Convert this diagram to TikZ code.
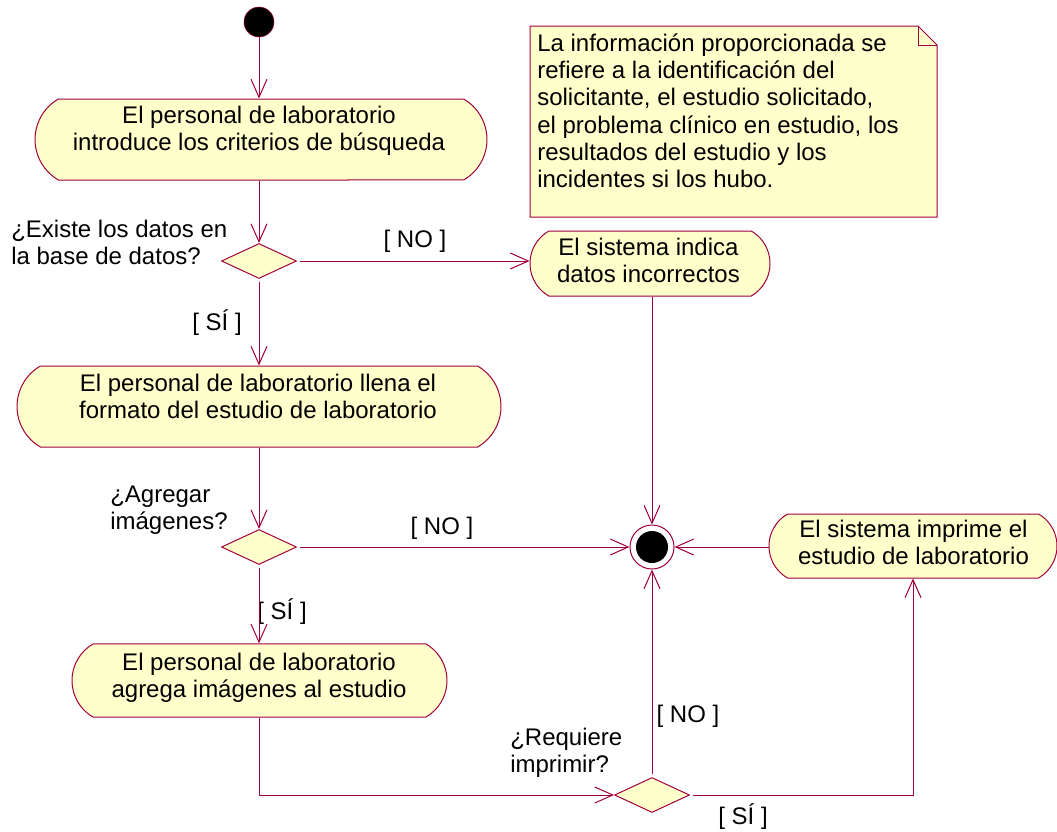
\documentclass[tikz,border=0pt]{standalone}
\usepackage{fontspec}
\setmainfont{Liberation Sans}
\usetikzlibrary{arrows.meta,shapes.misc,shapes.geometric}
\definecolor{rose}{RGB}{160,0,60}
\definecolor{notefill}{RGB}{255,255,204}
\begin{document}
\begin{tikzpicture}[x=0.75pt,y=-0.75pt,
  every node/.style={font=\fontsize{18}{20.5}\selectfont},
  act/.style={shape=rounded rectangle, rounded rectangle arc length=120, draw=rose, fill=notefill, line width=0.75pt, inner sep=0pt},
  dec/.style={shape=diamond, draw=rose, fill=notefill, line width=0.75pt, inner sep=0pt, minimum width=56.25pt, minimum height=26.25pt},
  txt/.style={align=center, inner sep=0pt, anchor=north},
  lbl/.style={align=left, inner sep=0pt, anchor=north west},
  guard/.style={inner sep=0pt},
  flow/.style={draw=rose, line width=0.75pt, -{Straight Barb[length=13.5pt,width=12pt]}},
  plain/.style={draw=rose, line width=0.75pt},
]
\useasboundingbox (0,0) rectangle (1057,832);

% note
\draw[plain, fill=notefill] (530,26) -- (918,26) -- (937,45) -- (937,217) -- (530,217) -- cycle;
\draw[plain] (918,26) -- (918,45) -- (937,45);
\node[lbl] (notetext) at (537,33.3) {La información proporcionada se\\refiere a la identificación del\\solicitante, el estudio solicitado,\\el problema clínico en estudio, los\\resultados del estudio y los\\incidentes si los hubo.};

% initial and final
\node[circle, fill=black, draw=rose, minimum size=22.5pt, inner sep=0pt] (start) at (259,22) {};
\node[circle, draw=rose, fill=white, line width=0.75pt, minimum size=33pt, inner sep=0pt] (fin) at (652,547) {};
\fill[black] (fin.center) circle (12pt);

% activities
\node[act, minimum width=339pt, minimum height=60.75pt] (b1) at (261,139.5) {};
\node[act, minimum width=180pt, minimum height=48.75pt] (b2) at (650,263.5) {};
\node[act, minimum width=363pt, minimum height=60.75pt] (b3) at (259,406.5) {};
\node[act, minimum width=216pt, minimum height=48pt] (b4) at (913,546) {};
\node[act, minimum width=281.25pt, minimum height=55pt] (b5) at (259.5,680.5) {};

\node[txt] (t1) at (259,105.6) {El personal de laboratorio\\introduce los criterios de búsqueda};
\node[txt] (t2) at (648.5,237.6) {El sistema indica\\datos incorrectos};
\node[txt] (t3) at (258,373.6) {El personal de laboratorio llena el\\formato del estudio de laboratorio};
\node[txt] (t4) at (913.5,519.6) {El sistema imprime el\\estudio de laboratorio};
\node[txt] (t5) at (259,652.6) {El personal de laboratorio\\agrega imágenes al estudio};

% decisions
\node[dec] (d1) at (259,261) {};
\node[dec] (d2) at (259,547) {};
\node[dec] (d3) at (652,795) {};

\node[lbl] (q1) at (11,219.6) {¿Existe los datos en\\la base de datos?};
\node[lbl] (q2) at (110,485.6) {¿Agregar\\imágenes?};
\node[lbl] (q3) at (510,727.6) {¿Requiere\\imprimir?};

% guards
\node[guard] (g1) at (415,241) {[ NO ]};
\node[guard] (g2) at (217,323) {[ SÍ ]};
\node[guard] (g3) at (442,528) {[ NO ]};
\node[guard] (g4) at (282,612) {[ SÍ ]};
\node[guard] (g5) at (688,716) {[ NO ]};
\node[guard] (g6) at (743,817) {[ SÍ ]};

% flows
\draw[flow] (start) -- (start |- b1.north);
\draw[flow] (d1 |- b1.south) -- (d1.north);
\draw[flow, shorten <=2.5pt] (d1.east) -- (b2.west |- d1.east);
\draw[flow] (b2.south -| fin) -- (fin.north);
\draw[flow, shorten <=2.5pt] (d1.south) -- (d1 |- b3.north);
\draw[flow] (d2 |- b3.south) -- (d2.north);
\draw[flow, shorten <=2.5pt] (d2.east) -- (fin.west);
\draw[flow, shorten <=2.5pt] (d2.south) -- (d2 |- b5.north);
\draw[flow] (b5.south) |- (d3.west);
\draw[flow, shorten <=2.5pt] (d3.north) -- (fin.south);
\draw[flow, shorten <=2.5pt] (d3.east) -| (b4.south);
\draw[flow] (b4.west |- fin) -- (fin.east);
\end{tikzpicture}
\end{document}
